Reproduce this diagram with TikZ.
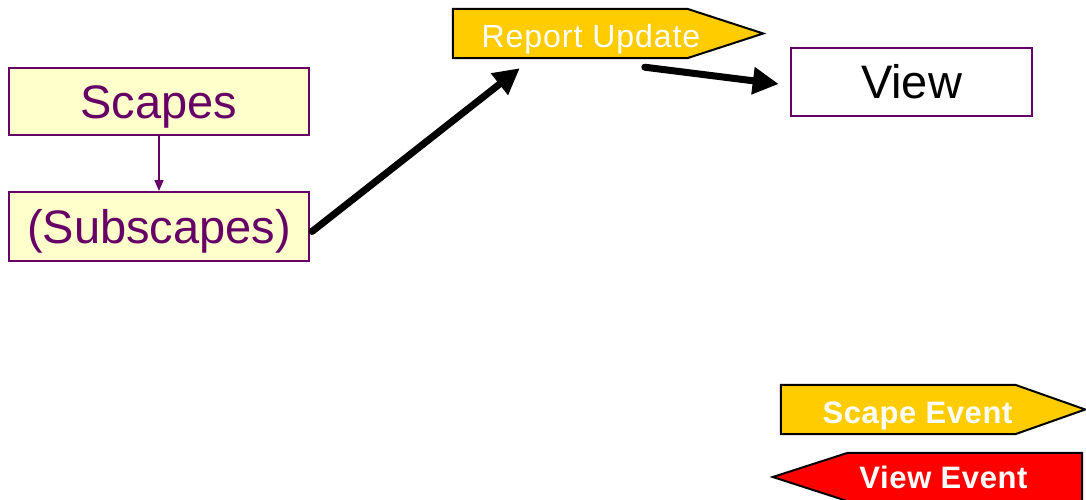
\documentclass[tikz,border=0pt]{standalone}
\usepackage{fontspec}
\setmainfont{Liberation Sans}
\usetikzlibrary{calc,arrows.meta}
\definecolor{scapepurple}{HTML}{660066}
\definecolor{paleyellow}{HTML}{FFFFCC}
\definecolor{eventyellow}{HTML}{FFCC00}
\definecolor{eventred}{HTML}{FF0000}
\begin{document}
\begin{tikzpicture}[x=1pt,y=-1pt,
  scapebox/.style={draw=scapepurple,line width=2pt,fill=paleyellow,text=scapepurple,
    minimum width=300pt,inner sep=0pt,text height=33pt,text depth=0pt,
    font=\fontsize{47}{50}\selectfont},
  viewbox/.style={draw=scapepurple,line width=2.5pt,fill=white,text=black,
    minimum width=241pt,minimum height=68pt,inner sep=0pt,text height=33pt,text depth=0pt,
    font=\fontsize{47}{50}\selectfont},
  eventshape/.style={draw=black,line width=2pt,line join=miter},
  eventlabel/.style={text=white,inner sep=0pt,anchor=base},
  bigarrow/.style={line width=7pt,line cap=round,-{Triangle[length=26pt,width=26pt]}},
  thinarrow/.style={draw=scapepurple,line width=1.5pt,-{Triangle[length=11pt,width=9pt]}}]
\useasboundingbox (0,0) rectangle (1086,499);

% scape hierarchy
\node[scapebox,minimum height=67pt] (scapes) at (159,101.5) {Scapes};
\node[scapebox,minimum height=69pt] (sub) at (159,226.5) {(Subscapes)};
\draw[thinarrow] (scapes.south) -- (sub.north);

% view
\node[viewbox] (view) at (911.5,82) {View};

% report update event (body plus point)
\node[minimum width=234pt,minimum height=49pt,inner sep=0pt] (rep) at (570,33.5) {};
\draw[eventshape,fill=eventyellow] (rep.north west) -- (rep.north east)
  -- ($(rep.east)+(76,0)$) -- (rep.south east) -- (rep.south west) -- cycle;
\node[eventlabel,font=\fontsize{32}{34}\selectfont\addfontfeature{LetterSpace=3}] (replabel) at (591,47) {Report Update};

% connectors
\coordinate (a1s) at ($(sub.east)+(2,5)$);
\coordinate (a1e) at ($(rep.south west)+(67,10)$);
\draw[bigarrow] (a1s) -- (a1e);
\coordinate (a2s) at ($(rep.south west)+(192,9)$);
\coordinate (a2e) at ($(view.west)+(-11,2)$);
\draw[bigarrow] (a2s) -- (a2e);

% legend
\node[minimum width=234pt,minimum height=49pt,inner sep=0pt] (scapeev) at (898,409.5) {};
\draw[eventshape,fill=eventyellow] (scapeev.north west) -- (scapeev.north east)
  -- ($(scapeev.east)+(70,0)$) -- (scapeev.south east) -- (scapeev.south west) -- cycle;
\node[eventlabel,font=\bfseries\fontsize{31}{34}\selectfont\addfontfeature{LetterSpace=2}] (scapeevlabel) at (917.5,423) {Scape Event};

\node[minimum width=234pt,minimum height=48pt,inner sep=0pt] (viewev) at (965,477) {};
\draw[eventshape,fill=eventred] (viewev.north east) -- (viewev.north west)
  -- ($(viewev.west)+(-75,0)$) -- (viewev.south west) -- (viewev.south east) -- cycle;
\node[eventlabel,font=\bfseries\fontsize{31}{34}\selectfont\addfontfeature{LetterSpace=2}] (viewevlabel) at (943.5,488) {View Event};
\end{tikzpicture}
\end{document}
